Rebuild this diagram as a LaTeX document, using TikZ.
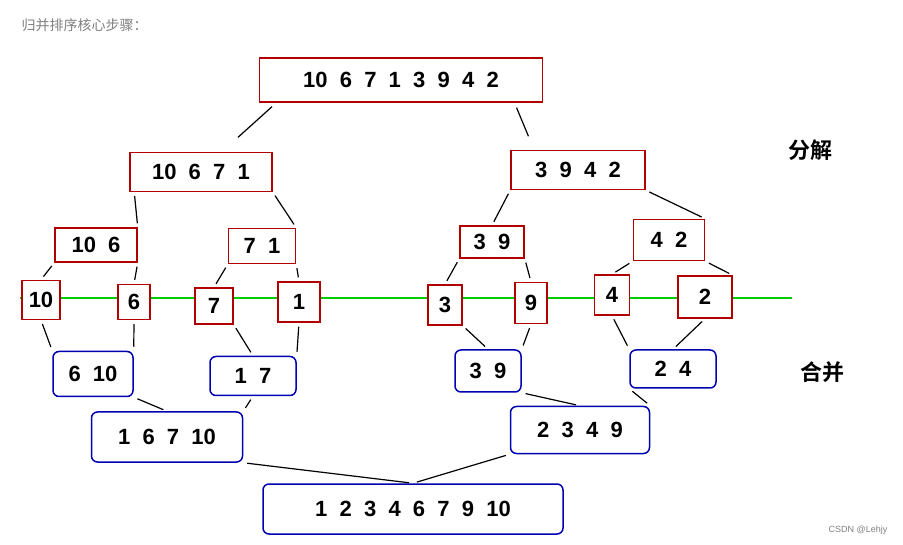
\documentclass[tikz,border=0pt]{standalone}
\usepackage{fontspec}
\setmainfont{Liberation Sans}[BoldFont={Liberation Sans Bold}]
\newfontfamily\cjk{Noto Sans CJK SC}[BoldFont={Noto Sans CJK SC Bold}]
\usetikzlibrary{positioning}
\tikzset{splitbox/.style={draw=red!70!black, line width=1.5pt, fill=white, font=\fontsize{22}{24}\selectfont\bfseries, inner sep=2pt},
    mergebox/.style={draw=blue!70!black, line width=1.5pt, rounded corners=6pt, fill=white, font=\fontsize{22}{24}\selectfont\bfseries, inner sep=4pt},
    link/.style={line width=1.2pt, shorten <=4pt, shorten >=4pt}
}

\begin{document}
\begin{tikzpicture}[x=1pt, y=-1pt]
    \useasboundingbox (0,0) rectangle (903,545);
    \node[anchor=west, text=gray, font=\cjk\fontsize{14}{16}\selectfont] (title) at (18,25) {归并排序核心步骤：};

    % splitting
    \node[splitbox, minimum width=283pt, minimum height=44pt] (all) at (401,80) {10\ \ 6\ \ 7\ \ 1\ \ 3\ \ 9\ \ 4\ \ 2};
    \node[splitbox, minimum width=142pt, minimum height=39pt] (l) at (201,172) {10\ \ 6\ \ 7\ \ 1};
    \node[splitbox, minimum width=134pt, minimum height=39pt] (r) at (578,170) {3\ \ 9\ \ 4\ \ 2};
    \node[splitbox, minimum width=82pt, minimum height=34pt] (ll) at (96,245) {10\ \ 6};
    \node[splitbox, minimum width=67pt, minimum height=35pt] (lr) at (262,246) {7\ \ 1};
    \node[splitbox, minimum width=64pt, minimum height=32pt] (rl) at (492,242) {3\ \ 9};
    \node[splitbox, minimum width=71pt, minimum height=41pt] (rr) at (669,240) {4\ \ 2};

    \draw[green!80!black, line width=1.2pt] (20,298) -- (792,298);

    \node[splitbox, minimum width=38pt, minimum height=39pt] (a) at (41,300) {10};
    \node[splitbox, minimum width=32pt, minimum height=35pt] (b) at (134,302) {6};
    \node[splitbox, minimum width=38pt, minimum height=36pt] (c) at (214,306) {7};
    \node[splitbox, minimum width=42pt, minimum height=40pt] (d) at (299,302) {1};
    \node[splitbox, minimum width=34pt, minimum height=40pt] (e) at (445,305) {3};
    \node[splitbox, minimum width=32pt, minimum height=41pt] (f) at (531,303) {9};
    \node[splitbox, minimum width=35pt, minimum height=40pt] (g) at (612,295) {4};
    \node[splitbox, minimum width=54pt, minimum height=42pt] (h) at (705,297) {2};

    % merging
    \node[mergebox, minimum width=80pt, minimum height=45pt] (m1) at (93,374) {6\ \ 10};
    \node[mergebox, minimum width=86pt, minimum height=39pt] (m2) at (253,376) {1\ \ 7};
    \node[mergebox, minimum width=66pt, minimum height=42pt] (m3) at (488,371) {3\ \ 9};
    \node[mergebox, minimum width=86pt, minimum height=38pt] (m4) at (673,369) {2\ \ 4};
    \node[mergebox, minimum width=151pt, minimum height=50pt] (n1) at (167,437) {1\ \ 6\ \ 7\ \ 10};
    \node[mergebox, minimum width=139pt, minimum height=47pt] (n2) at (580,430) {2\ \ 3\ \ 4\ \ 9};
    \node[mergebox, minimum width=300pt, minimum height=50pt] (fin) at (413,509) {1\ \ 2\ \ 3\ \ 4\ \ 6\ \ 7\ \ 9\ \ 10};

    \coordinate (t1) at (275,104);
    \coordinate (t2) at (515,104);
    \draw[link] (t1) -- (235,140);
    \draw[link] (t2) -- (530,140);
    \draw[link] (l.south west) ++(5,0) -- (ll.north east);
    \draw[link] (l.south east) -- (lr.north east);
    \draw[link] (r.south west) -- (rl.north);
    \draw[link] (r.south east) -- (rr.north east);
    \draw[link] (ll.south west) -- (a.north);
    \draw[link] (ll.south east) -- (b.north);
    \draw[link] (lr.south west) -- (c.north);
    \draw[link] (lr.south east) -- (d.north);
    \draw[link] (rl.south west) -- (e.north);
    \draw[link] (rl.south east) -- (f.north);
    \draw[link] (rr.south west) -- (g.north);
    \draw[link] (rr.south east) -- (h.north east);
    \draw[link] (a.south) -- (m1.north west);
    \draw[link] (b.south) -- (m1.north east);
    \draw[link] (c.south east) -- (m2.north);
    \draw[link] (d.south) -- (m2.north east);
    \draw[link] (e.south east) -- (m3.north);
    \draw[link] (f.south) -- (m3.north east);
    \draw[link] (g.south) -- (m4.north west);
    \draw[link] (h.south) -- (m4.north);
    \draw[link] (m1.south east) -- (n1.north);
    \draw[link] (m2.south) -- (n1.north east);
    \draw[link] (m3.south east) -- (n2.north);
    \draw[link] (m4.south west) -- (n2.north east);
    \draw[link] (n1.south east) -- (fin.north);
    \draw[link] (n2.south west) -- (fin.north);

    \node[font=\cjk\bfseries\fontsize{22}{24}\selectfont] (split) at (810,150) {分解};
    \node[font=\cjk\bfseries\fontsize{22}{24}\selectfont] (merge) at (822,372) {合并};
    \node[text=gray, font=\fontsize{9}{10}\selectfont] (mark) at (858,530) {CSDN @Lehjy};
\end{tikzpicture}
\end{document}
